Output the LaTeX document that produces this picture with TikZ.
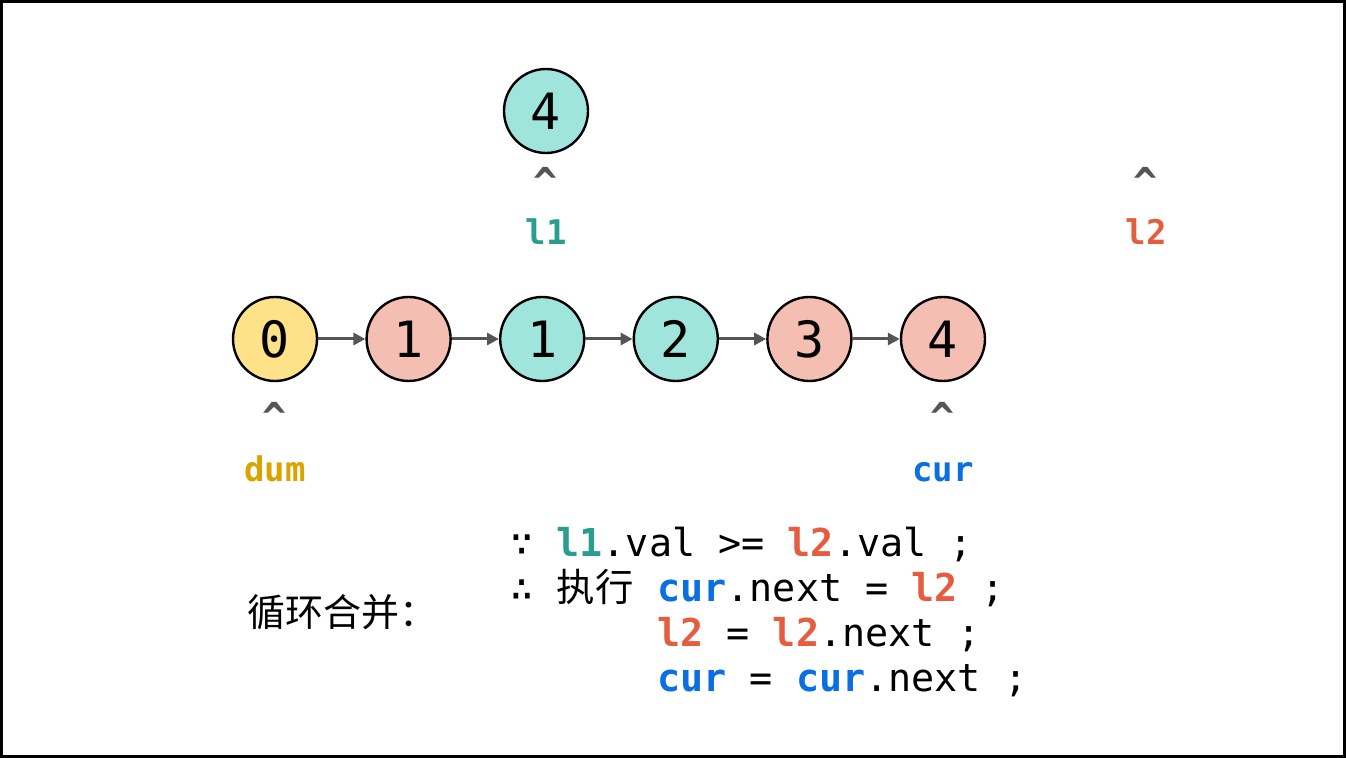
\documentclass[tikz,border=0pt]{standalone}
\usepackage{fontspec}
\setmonofont{DejaVu Sans Mono}
\newfontfamily\cjk{Noto Sans CJK SC}
\usetikzlibrary{arrows.meta, positioning}
\definecolor{goldfill}{HTML}{FEE28A}
\definecolor{pinkfill}{HTML}{F4BFB2}
\definecolor{tealfill}{HTML}{A0E5DC}
\definecolor{dumcol}{HTML}{D9A300}
\definecolor{lonecol}{HTML}{2A9D8F}
\definecolor{ltwocol}{HTML}{E65C3E}
\definecolor{curcol}{HTML}{0A6FE0}
\definecolor{linkgray}{HTML}{555555}
\definecolor{caretgray}{HTML}{555555}
\newcommand{\lone}{\textcolor{lonecol}{\bfseries l1}}
\newcommand{\ltwo}{\textcolor{ltwocol}{\bfseries l2}}
\newcommand{\curp}{\textcolor{curcol}{\bfseries cur}}
\tikzset{%
   % list cell: one circle per value
   lnode/.style={
      circle,
      draw=black,
      line width=1.2pt,
      minimum size=42pt,
      inner sep=0pt,
      font=\ttfamily\fontsize{25}{25}\selectfont
   },
   goldnode/.style={lnode, fill=goldfill},
   pinknode/.style={lnode, fill=pinkfill},
   tealnode/.style={lnode, fill=tealfill},
   link/.style={
      -{Triangle[length=6pt, width=6pt]},
      draw=linkgray,
      line width=1.5pt
   },
   caret/.style={
      text=caretgray,
      anchor=base,
      inner sep=0pt,
      font=\ttfamily\bfseries\fontsize{20}{20}\selectfont
   },
   ptr/.style={
      anchor=base,
      inner sep=0pt,
      font=\ttfamily\bfseries\fontsize{17}{17}\selectfont
   },
   code/.style={
      anchor=base west,
      inner sep=0pt,
      font=\ttfamily\fontsize{19.2}{19.2}\selectfont
   },
}

\begin{document}
\begin{tikzpicture}[x=0.5pt, y=-0.5pt]
\useasboundingbox (0,0) rectangle (1346,758);
\draw[line width=1.5pt] (1.5,1.5) rectangle (1344.5,756.5);
% the merged list
\node[goldnode] (n0) at (275,339) {0};
\node[pinknode, right=23.6pt of n0] (a1) {1};
\node[tealnode, right=23.6pt of a1] (b1) {1};
\node[tealnode, right=23.6pt of b1] (b2) {2};
\node[pinknode, right=23.6pt of b2] (a3) {3};
\node[pinknode, right=23.6pt of a3] (a4) {4};
\node[tealnode] (b4) at (546,111) {4};
\foreach \u/\v in {n0/a1, a1/b1, b1/b2, b2/a3, a3/a4}
  \draw[link] (\u) -- (\v);
% pointers
\node[caret] (c1) at (546,197) {\textasciicircum};
\node[ptr, text=lonecol] (p1) at (546,245) {l1};
\node[caret] (c2) at (1146,197) {\textasciicircum};
\node[ptr, text=ltwocol] (p2) at (1146,245) {l2};
\node[caret] (c0) at (275,432) {\textasciicircum};
\node[ptr, text=dumcol] (p0) at (275,482) {dum};
\node[caret] (c4) at (943,432) {\textasciicircum};
\node[ptr, text=curcol] (p4) at (943,482) {cur};
% loop body
\node[anchor=base west, inner sep=0pt, font=\cjk\fontsize{19}{19}\selectfont] (title) at (247,627) {循环合并：};
\node[code] (s1) at (510,557) {∵ \lone.val >= \ltwo.val ;};
\node[code] (s2) at (510,602) {∴ {\cjk 执行}};
\node[code] (s2b) at (657,602) {\curp.next = \ltwo{} ;};
\node[code] (s3) at (657,647) {\ltwo{} = \ltwo.next ;};
\node[code] (s4) at (657,692) {\curp{} = \curp.next ;};
\end{tikzpicture}
\end{document}
